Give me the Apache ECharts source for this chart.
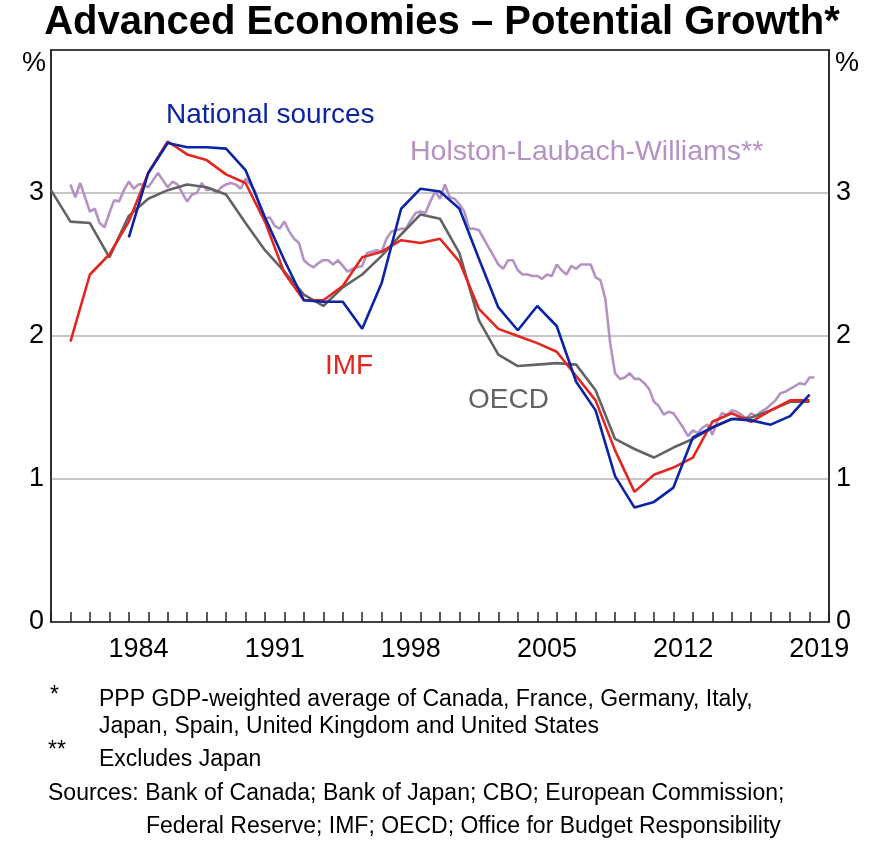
<!DOCTYPE html>
<html>

<head>
    <meta charset="utf-8">
    <script src="https://cdn.jsdelivr.net/npm/echarts@6/dist/echarts.min.js"></script>
    <style>
        body { margin: 0; background: #fff; }
        #main { width: 884px; height: 843px; }
    </style>
</head>

<body>
    <div id="main"></div>
</body>
<script>
    // year bands for the bottom labels
    var years = [];
    for (var y = 1980; y <= 2019; y++) years.push(String(y));
    var shownYears = ['1984', '1991', '1998', '2005', '2012', '2019'];

    // annual estimates, %
    var oecdStart = 1980;
    var oecd = [3.02, 2.80, 2.79, 2.55, 2.84, 2.96, 3.02, 3.06, 3.04, 2.99,
        2.79, 2.60, 2.45, 2.29, 2.21, 2.34, 2.43, 2.56, 2.71, 2.85,
        2.82, 2.58, 2.11, 1.87, 1.79, 1.80, 1.81, 1.80, 1.62, 1.28,
        1.21, 1.15, 1.22, 1.28, 1.36, 1.42, 1.43, 1.48, 1.54, 1.54];

    var imfStart = 1981;
    var imf = [1.96, 2.43, 2.57, 2.80, 3.14, 3.36, 3.27, 3.23, 3.13,
        3.07, 2.80, 2.44, 2.25, 2.25, 2.35, 2.55, 2.59, 2.67, 2.65,
        2.68, 2.52, 2.19, 2.05, 2.00, 1.95, 1.89, 1.72, 1.55, 1.20,
        0.91, 1.03, 1.08, 1.15, 1.40, 1.46, 1.40, 1.48, 1.55, 1.55];

    var nationalStart = 1984;
    var national = [2.69, 3.14, 3.35, 3.32, 3.32, 3.31,
        3.16, 2.83, 2.53, 2.25, 2.24, 2.24, 2.05, 2.37, 2.89, 3.03,
        3.01, 2.89, 2.54, 2.20, 2.04, 2.21, 2.07, 1.68, 1.48, 1.02,
        0.80, 0.84, 0.94, 1.29, 1.36, 1.42, 1.41, 1.38, 1.44, 1.59];

    // quarterly, starting 1981 Q1
    var hlwStart = 1981;
    var hlw = [
        3.06, 2.97, 3.07, 2.97, 2.87, 2.89, 2.79, 2.76, 2.86, 2.95, 2.94, 3.02,
        3.08, 3.03, 3.06, 3.06, 3.04, 3.09, 3.14, 3.09, 3.04, 3.08, 3.06, 3.00,
        2.94, 2.99, 3.00, 3.07, 3.02, 3.03, 3.00, 3.04, 3.06, 3.07, 3.06, 3.03,
        3.10, 3.06, 3.01, 2.90,
        2.82, 2.83, 2.77, 2.75, 2.80, 2.73, 2.68, 2.65, 2.53, 2.50, 2.48, 2.51,
        2.53, 2.53, 2.50, 2.53, 2.49, 2.45, 2.47, 2.48, 2.49, 2.58, 2.59, 2.60,
        2.59, 2.68, 2.73, 2.74, 2.75, 2.75, 2.81, 2.86, 2.87, 2.86, 2.94, 3.01,
        2.96, 3.06, 2.97, 2.96,
        2.92, 2.87, 2.75, 2.75, 2.74, 2.68, 2.62, 2.56, 2.50, 2.47, 2.53, 2.53,
        2.46, 2.43, 2.43, 2.42, 2.42, 2.40, 2.43, 2.42, 2.50, 2.46, 2.43, 2.49,
        2.47, 2.50, 2.50, 2.50, 2.41, 2.39, 2.26, 1.95, 1.74, 1.70, 1.71, 1.74,
        1.70, 1.70, 1.67, 1.63,
        1.54, 1.51, 1.45, 1.47, 1.46, 1.41, 1.36, 1.30, 1.34, 1.32, 1.36, 1.38,
        1.31, 1.40, 1.46, 1.45, 1.48, 1.47, 1.45, 1.42, 1.46, 1.44, 1.47, 1.49,
        1.52, 1.55, 1.60, 1.61, 1.63, 1.65, 1.67, 1.66, 1.71, 1.71];

    function annual(start, vals) {
        return vals.map(function(v, i) { return [start + i, v]; });
    }

    function quarterly(start, vals) {
        return vals.map(function(v, i) { return [start + i / 4, v]; });
    }

    var font = 'Liberation Sans, Arial, sans-serif';
    var blue = '#0b24a3',
        red = '#e3261f',
        grey = '#636363',
        lilac = '#b592c4';

    function yAxisCfg(pos) {
        return {
            type: 'value',
            position: pos,
            min: 0,
            max: 4,
            interval: 1,
            axisLine: { show: true, lineStyle: { color: '#222', width: 1.5 } },
            axisTick: { show: false },
            splitLine: { show: pos === 'left', lineStyle: { color: '#b5b5b5', width: 1.5 } },
            axisLabel: {
                color: '#000',
                fontSize: 27,
                fontFamily: font,
                margin: 7,
                formatter: function(v) { return v === 4 ? '' : String(v); }
            }
        };
    }

    function text(x, y, str, color, size, bold) {
        return {
            type: 'text',
            left: x,
            top: y,
            style: {
                text: str,
                fill: color,
                font: (bold ? 'bold ' : '') + size + 'px ' + font
            }
        };
    }

    function line(name, data, color) {
        return {
            name: name,
            type: 'line',
            xAxisIndex: 0,
            data: data,
            showSymbol: false,
            lineStyle: { color: color, width: 2.6 },
            animation: false
        };
    }

    var myChart = echarts.init(document.getElementById('main'));
    myChart.setOption({
        animation: false,
        grid: {
            left: 51,
            right: 55,
            top: 50,
            bottom: 221,
            show: true,
            borderColor: '#222',
            borderWidth: 1.5
        },
        xAxis: [{
            type: 'value',
            min: 1980,
            max: 2020,
            interval: 1,
            axisLine: { show: true, lineStyle: { color: '#222', width: 1.5 } },
            axisTick: { show: true, inside: true, length: 10, lineStyle: { color: '#222', width: 1.5 } },
            axisLabel: { show: false },
            splitLine: { show: false }
        }, {
            type: 'category',
            data: years,
            boundaryGap: true,
            position: 'bottom',
            axisLine: { show: false },
            axisTick: { show: false },
            splitLine: { show: false },
            axisLabel: {
                color: '#000',
                fontSize: 27,
                fontFamily: font,
                margin: 14,
                interval: function(i, v) { return shownYears.indexOf(v) >= 0; }
            }
        }, {
            type: 'value',
            min: 1980,
            max: 2020,
            position: 'top',
            axisLine: { show: true, lineStyle: { color: '#222', width: 1.5 } },
            axisTick: { show: false },
            axisLabel: { show: false },
            splitLine: { show: false }
        }],
        yAxis: [yAxisCfg('left'), yAxisCfg('right')],
        series: [
            line('Holston-Laubach-Williams**', quarterly(hlwStart, hlw), lilac),
            line('OECD', annual(oecdStart, oecd), grey),
            line('IMF', annual(imfStart, imf), red),
            line('National sources', annual(nationalStart, national), blue)
        ],
        graphic: [
            {
                type: 'text',
                left: 'center',
                top: 3,
                style: { text: 'Advanced Economies \u2013 Potential Growth*', fill: '#000', font: 'bold 40px ' + font }
            },
            text(22, 50, '%', '#000', 27),
            text(835, 50, '%', '#000', 27),
            text(166, 101, 'National sources', blue, 28),
            text(410, 138, 'Holston-Laubach-Williams**', lilac, 28.5),
            text(325, 352, 'IMF', red, 28),
            text(468, 386, 'OECD', grey, 28),
            text(50, 684, '*', '#000', 23),
            text(99, 688, 'PPP GDP-weighted average of Canada, France, Germany, Italy,', '#000', 23),
            text(99, 715, 'Japan, Spain, United Kingdom and United States', '#000', 23),
            text(48, 739, '**', '#000', 23),
            text(99, 748, 'Excludes Japan', '#000', 23),
            text(48, 782, 'Sources: Bank of Canada; Bank of Japan; CBO; European Commission;', '#000', 23),
            text(146, 815, 'Federal Reserve; IMF; OECD; Office for Budget Responsibility', '#000', 23)
        ]
    });
</script>

</html>
